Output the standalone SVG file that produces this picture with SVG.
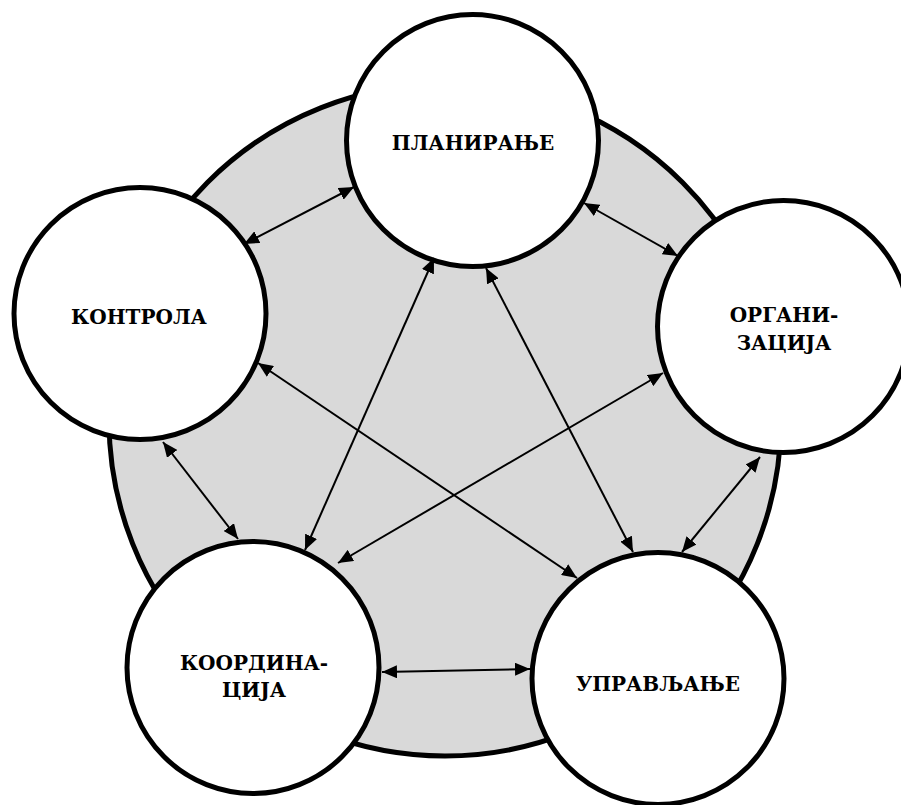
<svg xmlns="http://www.w3.org/2000/svg" width="901" height="805" viewBox="0 0 901 805">
<style>
.bg{fill:#d9d9d9;stroke:#000;stroke-width:5}
.node{fill:#fff;stroke:#000;stroke-width:5}
.lbl{font-family:'DejaVu Serif',serif;font-weight:700;font-size:20px;text-anchor:middle;fill:#000}
.con{stroke:#000;stroke-width:2;fill:none;marker-start:url(#ah);marker-end:url(#ah)}
</style>
<defs>
<marker id="ah" markerUnits="userSpaceOnUse" markerWidth="16" markerHeight="13" refX="15" refY="6.5" orient="auto-start-reverse">
<path d="M0,0 L15,6.5 L0,13 z" fill="#000"/>
</marker>
</defs>
<rect width="901" height="805" fill="#fff"/>
<circle class="bg" cx="445" cy="420" r="336"/>
<g id="planiranje"><circle class="node" cx="472.5" cy="140.5" r="126"/><text class="lbl" x="473" y="150">ПЛАНИРАЊЕ</text></g>
<g id="kontrola"><circle class="node" cx="140" cy="313.5" r="126"/><text class="lbl" x="139" y="324">КОНТРОЛА</text></g>
<g id="organizacija"><circle class="node" cx="783.5" cy="326.5" r="126"/><text class="lbl" x="784" y="322">ОРГАНИ-</text><text class="lbl" x="784" y="350">ЗАЦИЈА</text></g>
<g id="koordinacija"><circle class="node" cx="253" cy="667.5" r="126"/><text class="lbl" x="254" y="670">КООРДИНА-</text><text class="lbl" x="254" y="697">ЦИЈА</text></g>
<g id="upravljanje"><circle class="node" cx="658" cy="678.5" r="126"/><text class="lbl" x="658" y="691">УПРАВЉАЊЕ</text></g>
<g id="connectors">
<line class="con" x1="354" y1="187" x2="244" y2="244"/>
<line class="con" x1="584" y1="203" x2="678" y2="256"/>
<line class="con" x1="163" y1="442" x2="238" y2="539"/>
<line class="con" x1="760" y1="457" x2="682" y2="552"/>
<line class="con" x1="382" y1="672" x2="530" y2="669"/>
<line class="con" x1="434" y1="258" x2="305" y2="550"/>
<line class="con" x1="486" y1="268" x2="633" y2="552"/>
<line class="con" x1="258" y1="363" x2="577" y2="578"/>
<line class="con" x1="663" y1="373" x2="338" y2="563"/>
</g>
</svg>
